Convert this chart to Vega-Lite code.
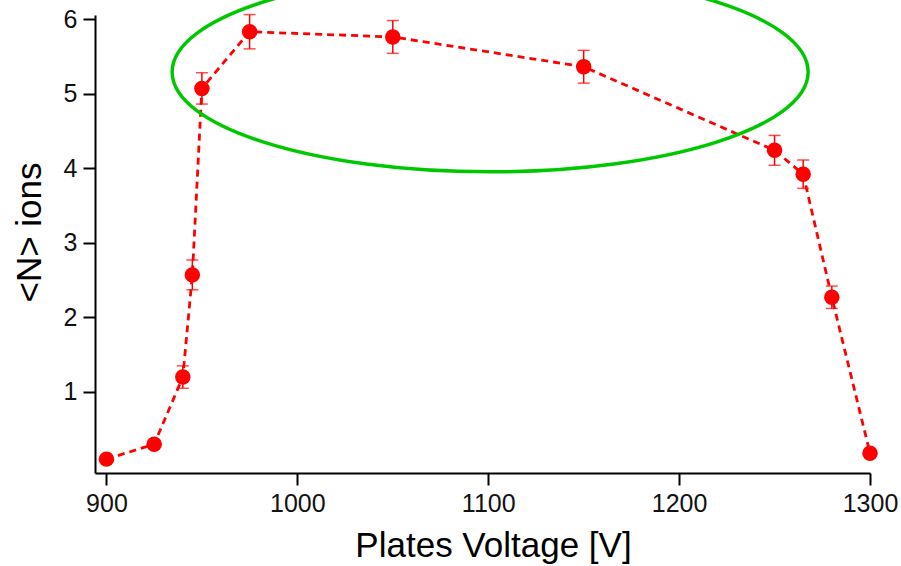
{
  "$schema": "https://vega.github.io/schema/vega-lite/v6.json",
  "width": 775,
  "height": 458,
  "autosize": {"type": "none"},
  "padding": {"left": 95, "top": 15, "right": 31, "bottom": 93},
  "background": "white",
  "config": {
    "view": {"stroke": null},
    "font": "Liberation Sans",
    "axis": {
      "grid": false,
      "domainColor": "#000000",
      "domainWidth": 2,
      "tickColor": "#000000",
      "tickWidth": 2,
      "tickSize": 12,
      "labelColor": "#111111",
      "labelFontSize": 25,
      "labelFont": "Liberation Sans",
      "titleFont": "Liberation Sans",
      "titleFontSize": 35,
      "titleFontWeight": "normal",
      "titleColor": "#000000"
    }
  },
  "datasets": {
    "pts": [
      {"v": 900, "n": 0.10, "e": 0.04},
      {"v": 925, "n": 0.30, "e": 0.05},
      {"v": 940, "n": 1.20, "e": 0.15},
      {"v": 945, "n": 2.57, "e": 0.20},
      {"v": 950, "n": 5.07, "e": 0.21},
      {"v": 975, "n": 5.83, "e": 0.23},
      {"v": 1050, "n": 5.76, "e": 0.22},
      {"v": 1150, "n": 5.36, "e": 0.22},
      {"v": 1250, "n": 4.24, "e": 0.20},
      {"v": 1265, "n": 3.92, "e": 0.19},
      {"v": 1280, "n": 2.27, "e": 0.15},
      {"v": 1300, "n": 0.18, "e": 0.05}
    ],
    "ell": [{"v": 1101, "n": 5.29}]
  },
  "layer": [
    {
      "data": {"name": "pts"},
      "mark": {"type": "line", "color": "#ff0000", "strokeDash": [7, 5], "strokeWidth": 2.8},
      "encoding": {
        "x": {
          "field": "v", "type": "quantitative", "title": "Plates Voltage [V]",
          "scale": {"domain": [894, 1300], "nice": false, "zero": false},
          "axis": {"values": [900, 1000, 1100, 1200, 1300], "format": "d", "title": "Plates Voltage [V]", "labelPadding": 6, "titlePadding": 12, "titleX": 398, "labelFlush": false}
        },
        "y": {
          "field": "n", "type": "quantitative", "title": "<N> ions",
          "scale": {"domain": [-0.086, 6.054], "nice": false, "zero": false},
          "axis": {"values": [1, 2, 3, 4, 5, 6], "format": "d", "title": "<N> ions", "labelPadding": 6, "titlePadding": 16, "titleY": 217, "labelFlush": false}
        }
      }
    },
    {
      "data": {"name": "pts"},
      "mark": {"type": "errorbar", "ticks": {"size": 12, "thickness": 1.5, "color": "#ff0000"}, "rule": {"color": "#ff0000", "strokeWidth": 1.5}},
      "encoding": {
        "x": {"field": "v", "type": "quantitative", "title": "Plates Voltage [V]"},
        "y": {"field": "n", "type": "quantitative", "title": "<N> ions"},
        "yError": {"field": "e"}
      }
    },
    {
      "data": {"name": "pts"},
      "mark": {"type": "point", "filled": true, "color": "#ff0000", "size": 240, "opacity": 1},
      "encoding": {
        "x": {"field": "v", "type": "quantitative", "title": "Plates Voltage [V]"},
        "y": {"field": "n", "type": "quantitative", "title": "<N> ions"}
      }
    },
    {
      "data": {"name": "ell"},
      "mark": {"type": "point", "shape": "M -1 0 A 1 0.314 0 1 1 1 0 A 1 0.314 0 1 1 -1 0 Z", "size": 404496, "filled": false, "stroke": "#00c800", "strokeWidth": 3.5, "opacity": 1},
      "encoding": {
        "x": {"field": "v", "type": "quantitative", "title": "Plates Voltage [V]"},
        "y": {"field": "n", "type": "quantitative", "title": "<N> ions"}
      }
    }
  ]
}
